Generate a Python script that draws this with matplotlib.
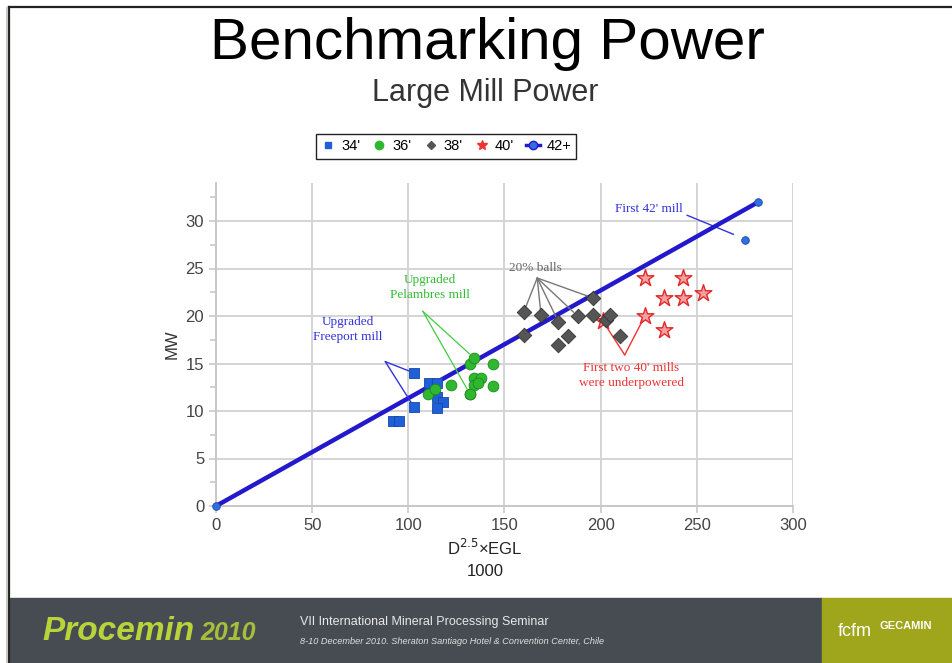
import matplotlib.pyplot as plt
from matplotlib.lines import Line2D
from matplotlib.patches import Rectangle

plt.rcParams['font.family'] = ['Liberation Sans', 'DejaVu Sans']

# data
x34 = [92, 95, 103, 103, 111, 115, 115, 118, 115]
y34 = [8.9, 8.9, 10.4, 14.0, 13.0, 13.0, 11.5, 10.9, 10.3]

x36 = [110, 114, 122, 132, 134, 132, 134, 138, 134, 144, 144, 132, 136]
y36 = [11.8, 12.3, 12.7, 15.0, 15.6, 11.8, 13.5, 13.5, 12.7, 15.0, 12.6, 11.8, 13.0]

x38 = [160, 160, 169, 178, 178, 183, 188, 196, 196, 203, 205, 210]
y38 = [20.4, 18.0, 20.1, 19.4, 16.9, 17.9, 20.0, 20.1, 21.9, 19.6, 20.1, 17.9]

x40 = [201, 223, 223, 233, 233, 243, 243, 253]
y40 = [19.5, 20.0, 24.0, 21.9, 18.5, 24.0, 21.9, 22.4]

x42 = [0, 282]
y42 = [0, 32.0]
x42b = [275]
y42b = [28.0]

xticks = [0, 50, 100, 150, 200, 250, 300]
yticks = [0, 5, 10, 15, 20, 25, 30]

fig = plt.figure(figsize=(9.52, 6.63), dpi=100)

# slide footer
fig.patches.append(Rectangle((10/952, 0), 812/952, 65/663, transform=fig.transFigure,
                             color='#474c53', zorder=0))
fig.patches.append(Rectangle((822/952, 0), 130/952, 65/663, transform=fig.transFigure,
                             color='#a0a61c', zorder=0))
fig.lines.append(Line2D([9/952, 1], [1 - 7/663, 1 - 7/663], transform=fig.transFigure,
                        color='#222222', lw=1.6))
fig.lines.append(Line2D([9/952, 9/952], [0, 1 - 7/663], transform=fig.transFigure,
                        color='#222222', lw=1.6))
fig.lines.append(Line2D([7/952, 7/952], [0, 1 - 8/663], transform=fig.transFigure,
                        color='#c8c8c0', lw=1.5))

fig.text(42/952, 1 - 631/663, 'Procemin', fontsize=24, fontweight='bold', style='italic',
         color='#b9d43a', va='center', ha='left')
fig.text(200/952, 1 - 633/663, '2010', fontsize=18, fontweight='bold', style='italic',
         color='#a8bd3a', va='center', ha='left')
fig.text(300/952, 1 - 622/663, 'VII International Mineral Processing Seminar', fontsize=9,
         color='#e8e8e8', va='center', ha='left')
fig.text(300/952, 1 - 641/663,
         '8-10 December 2010. Sheraton Santiago Hotel & Convention Center, Chile',
         fontsize=6.6, style='italic', color='#e0e0e0', va='center', ha='left')
fig.text(855/952, 1 - 631/663, 'fcfm', fontsize=13, color='white', va='center', ha='center')
fig.text(906/952, 1 - 626/663, 'GECAMIN', fontsize=8, color='white', va='center',
         ha='center', fontweight='bold')

# titles
fig.text(487/952, 1 - 44/663, 'Benchmarking Power', fontsize=42, ha='center', va='center')
fig.text(485/952, 1 - 93/663, 'Large Mill Power', fontsize=22, ha='center', va='center',
         color='#333333')

ax = fig.add_axes([216/952, 1 - 506/663, 577/952, 323/663])
ax.set_xlim(0, 300)
ax.set_ylim(0, 34)
ax.set_xticks(xticks)
ax.set_yticks(yticks)
ax.set_yticks([2.5, 7.5, 12.5, 17.5, 22.5, 27.5, 32.5], minor=True)
ax.grid(True, color='#d4d4d4', lw=1.4)
ax.set_axisbelow(True)
for s in ['top', 'right']:
    ax.spines[s].set_visible(False)
for s in ['left', 'bottom']:
    ax.spines[s].set_color('#c8c8c8')
    ax.spines[s].set_linewidth(1.4)
ax.tick_params(axis='both', which='major', labelsize=12, labelcolor='#444444',
               color='#c8c8c8', length=5, width=1.2)
ax.tick_params(axis='y', which='minor', color='#c8c8c8', length=4, width=1.2)
ax.set_ylabel('MW', fontsize=12, color='#333333', labelpad=4)

ax.text(140, -4.4, 'D$^{2.5}$\u00d7EGL', fontsize=12, ha='center', va='center', color='#222222')
ax.text(140, -6.9, '1000', fontsize=12, ha='center', va='center', color='#222222')

ax.plot(x42, y42, color='#2218cc', lw=3.2, zorder=3, solid_capstyle='round')
ax.scatter(x34, y34, marker='s', s=55, color='#1f5fd8', edgecolor='#1448a8', lw=0.6, zorder=4)
ax.scatter(x36, y36, marker='o', s=60, color='#2fb82f', edgecolor='#1a8a1a', lw=0.6, zorder=4)
ax.scatter(x40, y40, marker='*', s=160, color='#f4a0a0', edgecolor='#e02828', lw=1.0, zorder=3)
ax.scatter(x38, y38, marker='D', s=55, color='#555555', edgecolor='#333333', lw=0.6, zorder=4)
ax.scatter(x42 + x42b, y42 + y42b, marker='o', s=30, color='#2f6fe0', edgecolor='#1a48a8',
           lw=0.6, zorder=5, clip_on=False)

# callouts
serif = ['Liberation Serif', 'DejaVu Serif']
ax.text(225, 31.3, "First 42' mill", family=serif, fontsize=9.5, color='#3333dd',
        ha='center', va='center')
ax.plot([245, 269], [30.6, 28.6], color='#3333dd', lw=1)

ax.text(68.5, 18.6, 'Upgraded\nFreeport mill', family=serif, fontsize=9.5, color='#3333dd',
        ha='center', va='center', linespacing=1.3)
for px, py in [(103, 14.0), (103, 10.4)]:
    ax.annotate('', xy=(px, py), xytext=(88, 15.2),
                arrowprops=dict(arrowstyle='-', color='#3333dd', lw=1, shrinkA=0, shrinkB=4))

ax.text(111, 23.0, 'Upgraded\nPelambres mill', family=serif, fontsize=9.5, color='#33bb33',
        ha='center', va='center', linespacing=1.3)
for px, py in [(134, 15.6), (132, 11.8)]:
    ax.annotate('', xy=(px, py), xytext=(107.5, 20.5),
                arrowprops=dict(arrowstyle='-', color='#44cc44', lw=0.9, shrinkA=0, shrinkB=4))

ax.text(166, 25.1, '20% balls', family=serif, fontsize=9.5, color='#666666',
        ha='center', va='center')
for px, py in [(160, 20.4), (169, 20.1), (178, 19.4), (188, 20.0), (196, 21.9)]:
    ax.annotate('', xy=(px, py), xytext=(167, 24.0),
                arrowprops=dict(arrowstyle='-', color='#777777', lw=1, shrinkA=0, shrinkB=4))

ax.text(216, 13.7, "First two 40' mills\nwere underpowered", family=serif, fontsize=9.5,
        color='#ee3333', ha='center', va='center', linespacing=1.3)
for px, py in [(201, 19.5), (223, 20.0)]:
    ax.annotate('', xy=(px, py), xytext=(212.5, 15.9),
                arrowprops=dict(arrowstyle='-', color='#ee3333', lw=1, shrinkA=0, shrinkB=4))

handles = [
    Line2D([], [], ls='none', marker='s', ms=5, color='#1f5fd8'),
    Line2D([], [], ls='none', marker='o', ms=6, color='#2fb82f'),
    Line2D([], [], ls='none', marker='D', ms=4, color='#555555'),
    Line2D([], [], ls='none', marker='*', ms=7, color='#ee3333'),
    Line2D([], [], color='#2218cc', lw=2.5, marker='o', ms=6, mfc='#2f6fe0'),
]
fig.legend(handles, ["34'", "36'", "38'", "40'", "42+"], loc='center',
           bbox_to_anchor=(446/952, 1 - 146.5/663), ncol=5, fontsize=10.5,
           frameon=True, fancybox=False, edgecolor='#222222', framealpha=1,
           handlelength=1.0, handletextpad=0.4, columnspacing=0.8, borderpad=0.35,
           borderaxespad=0)

fig.savefig('out.png', dpi=100)
